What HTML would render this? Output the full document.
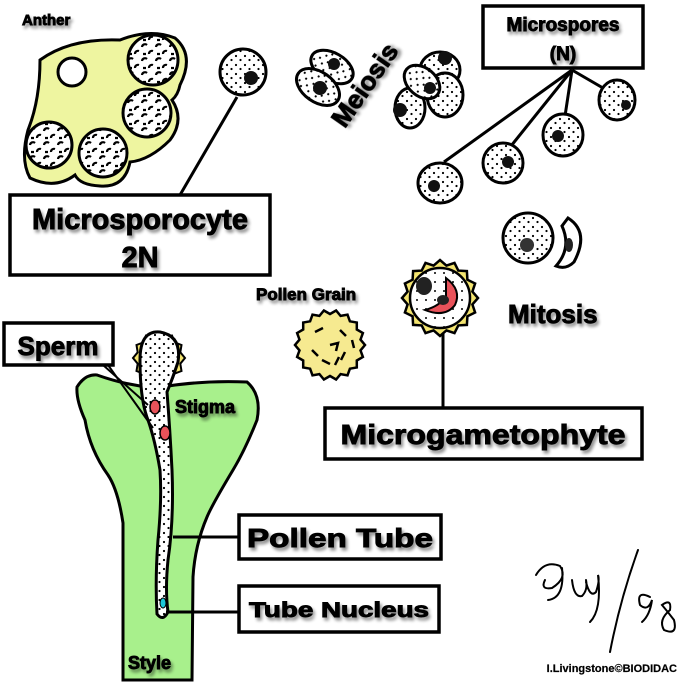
<!DOCTYPE html>
<html><head><meta charset="utf-8"><style>
html,body{margin:0;padding:0;background:#fff;}
svg{display:block;}
text{font-family:"Liberation Sans",sans-serif;font-weight:bold;stroke:#000;stroke-width:0.9px;}
</style></head><body>
<svg id="s" width="700" height="686" viewBox="0 0 700 686" xmlns="http://www.w3.org/2000/svg">
<defs>
<pattern id="dots" width="9" height="9" patternUnits="userSpaceOnUse">
<rect width="9" height="9" fill="#fff"/>
<circle cx="2" cy="2" r="1.1" fill="#000"/><circle cx="6.5" cy="6" r="1.1" fill="#000"/>
</pattern>
<pattern id="ydots" width="9" height="9" patternUnits="userSpaceOnUse">
<rect width="9" height="9" fill="#fff"/>
<circle cx="3" cy="3" r="1" fill="#000"/>
</pattern>
<pattern id="loc" width="14" height="14" patternUnits="userSpaceOnUse">
<rect width="14" height="14" fill="#fff"/>
<path d="M2 5 a3 3 0 0 1 5 -2 M9 12 a3 3 0 0 1 4 -3 M3 12 l3 0" stroke="#000" stroke-width="2.2" fill="none"/>
</pattern>
<filter id="sh" x="-10%" y="-10%" width="130%" height="140%">
<feGaussianBlur in="SourceAlpha" stdDeviation="1.5"/><feOffset dx="2" dy="3"/>
<feComponentTransfer><feFuncA type="linear" slope="0.45"/></feComponentTransfer>
<feMerge><feMergeNode/><feMergeNode in="SourceGraphic"/></feMerge>
</filter>
</defs>

<text x="22" y="25" font-size="15" filter="url(#sh)">Anther</text>
<!-- Anther -->
<path d="M40 60 Q70 38 120 40 Q150 28 175 38 Q195 55 180 85 Q178 95 172 100 Q185 120 170 140 Q150 160 130 162 Q125 188 100 186 Q80 185 75 175 Q55 190 30 178 Q20 160 28 130 Q40 100 40 60Z" fill="#eef5a0" stroke="#000" stroke-width="3"/>
<circle cx="72" cy="72" r="14" fill="#fff" stroke="#000" stroke-width="3"/>
<circle cx="153" cy="60" r="25" fill="url(#loc)" stroke="#000" stroke-width="3"/>
<circle cx="147" cy="113" r="24" fill="url(#loc)" stroke="#000" stroke-width="3"/>
<circle cx="49" cy="145" r="23" fill="url(#loc)" stroke="#000" stroke-width="3"/>
<circle cx="103" cy="153" r="24" fill="url(#loc)" stroke="#000" stroke-width="3"/>

<!-- microsporocyte -->
<line x1="237" y1="97" x2="180" y2="195" stroke="#000" stroke-width="3"/>
<circle cx="243" cy="72" r="23" fill="url(#dots)" stroke="#000" stroke-width="3"/>
<circle cx="251" cy="78" r="7" fill="#111"/>

<!-- dyad -->
<g stroke="#000" stroke-width="3">
<ellipse cx="332" cy="67" rx="23" ry="14" transform="rotate(30 332 67)" fill="url(#dots)"/>
<ellipse cx="318" cy="87" rx="24" ry="15" transform="rotate(35 318 87)" fill="url(#dots)"/>
</g>
<circle cx="334" cy="64" r="6" fill="#111"/><circle cx="320" cy="88" r="7" fill="#111"/>
<!-- tetrad -->
<g stroke="#000" stroke-width="3" fill="url(#dots)">
<ellipse cx="440" cy="70" rx="20" ry="18"/>
<ellipse cx="410" cy="108" rx="15" ry="20"/>
<ellipse cx="445" cy="95" rx="18" ry="22"/>
<ellipse cx="422" cy="82" rx="20" ry="14" transform="rotate(40 422 82)"/>
</g>
<circle cx="445" cy="58" r="7" fill="#111"/><circle cx="400" cy="110" r="7" fill="#111"/><circle cx="430" cy="88" r="6" fill="#111"/>

<text x="0" y="0" font-size="26" transform="translate(372 90) rotate(-55)" text-anchor="middle" filter="url(#sh)">Meiosis</text>

<!-- Microspores -->
<rect x="483" y="6" width="160" height="62" fill="#fff" stroke="#000" stroke-width="3.5"/>
<g filter="url(#sh)"><text x="563" y="31" font-size="19" text-anchor="middle">Microspores</text>
<text x="563" y="60" font-size="19" text-anchor="middle">(N)</text></g>
<g stroke="#000" stroke-width="3">
<line x1="572" y1="70" x2="444" y2="162"/><line x1="572" y1="70" x2="511" y2="146"/>
<line x1="572" y1="70" x2="565" y2="116"/><line x1="572" y1="70" x2="603" y2="88"/>
</g>
<g stroke="#000" stroke-width="3" fill="url(#dots)">
<ellipse cx="440" cy="183" rx="22" ry="20"/>
<ellipse cx="503" cy="163" rx="20" ry="20"/>
<ellipse cx="563" cy="135" rx="20" ry="21"/>
<ellipse cx="617" cy="100" rx="18" ry="20"/>
</g>
<circle cx="434" cy="186" r="6" fill="#111"/><circle cx="508" cy="162" r="6" fill="#111"/><circle cx="558" cy="136" r="6" fill="#111"/><circle cx="626" cy="105" r="5" fill="#111"/>

<!-- mitosis cells -->
<circle cx="528" cy="238" r="25" fill="url(#dots)" stroke="#000" stroke-width="3"/>
<circle cx="527" cy="245" r="7" fill="#333"/>
<path d="M568 218 Q590 232 574 262 Q566 270 556 266 Q572 248 562 226 Z" fill="#fff" stroke="#000" stroke-width="3"/>
<ellipse cx="569" cy="245" rx="4" ry="7" fill="#222"/>

<!-- microsporocyte box -->
<rect x="10" y="195" width="260" height="80" fill="#fff" stroke="#000" stroke-width="3.5"/>
<g filter="url(#sh)"><text x="140" y="229" font-size="29" text-anchor="middle">Microsporocyte</text>
<text x="140" y="267" font-size="29" text-anchor="middle">2N</text></g>

<!-- Pollen grain -->
<text x="256" y="300" font-size="17" filter="url(#sh)">Pollen Grain</text>
<path id="pg" fill="#f6ea90" stroke="#000" stroke-width="2.5"/>
<g stroke="#000" stroke-width="2.5" fill="none">
<path d="M315 332 l8 -4 M340 330 l6 6 M312 350 l6 6 M330 345 l8 -2 l-2 8 M345 352 l-4 8 M322 360 l8 4 M335 365 l4 -8 M352 340 l2 8"/>
</g>

<!-- microgametophyte -->
<line x1="443" y1="330" x2="443" y2="410" stroke="#000" stroke-width="3"/>
<path id="mg" fill="#f3e470" stroke="#000" stroke-width="2.5"/>
<circle cx="440" cy="298" r="30" fill="url(#ydots)" stroke="#000" stroke-width="2.5"/>
<ellipse cx="424" cy="286" rx="8" ry="9" fill="#222"/>
<path d="M446 278 Q462 290 455 305 Q445 318 425 310 Q440 306 446 296 Z" fill="#e8525a" stroke="#000" stroke-width="2"/>
<ellipse cx="443" cy="300" rx="6" ry="5" fill="#222"/>
<text x="508" y="323" font-size="26" filter="url(#sh)">Mitosis</text>
<rect x="325" y="408" width="317" height="51" fill="#fff" stroke="#000" stroke-width="3.5"/>
<text x="483" y="444" font-size="28" text-anchor="middle" filter="url(#sh)" textLength="285" lengthAdjust="spacingAndGlyphs">Microgametophyte</text>

<!-- stigma/style -->
<path d="M77 387 Q85 374 97 375 Q125 385 155 388 Q200 380 247 382 Q262 395 257 420 Q245 450 233 470 Q212 505 207 517 Q195 545 193 577 L192 680 L123 680 L123 523 Q118 490 108 475 Q90 450 85 420 Q76 400 77 387Z" fill="#a8f08c" stroke="#000" stroke-width="3"/>
<path id="ps" fill="#f3e470" stroke="#000" stroke-width="2"/>
<path d="M140 360 Q140 330 160 332 Q182 336 178 362 Q172 380 167 392 Q170 430 172 470 Q174 520 168 560 Q165 590 168 612 Q163 622 157 614 Q155 580 158 540 Q162 500 160 470 Q155 440 148 420 Q140 400 140 360Z" fill="url(#dots)" stroke="#000" stroke-width="3"/>
<ellipse cx="155" cy="407" rx="5" ry="7" fill="#e8525a" stroke="#000" stroke-width="1.5"/>
<ellipse cx="165" cy="433" rx="5" ry="7" fill="#e8525a" stroke="#000" stroke-width="1.5"/>
<ellipse cx="163" cy="603" rx="3" ry="5" fill="#1cc8d8" stroke="#000"/>
<g stroke="#000" stroke-width="2"><line x1="103" y1="365" x2="148" y2="405"/><line x1="108" y1="365" x2="153" y2="428"/></g>
<text x="175" y="413" font-size="18" filter="url(#sh)">Stigma</text>
<text x="128" y="669" font-size="18" filter="url(#sh)">Style</text>

<rect x="4" y="323" width="109" height="42" fill="#fff" stroke="#000" stroke-width="3.5"/>
<text x="58" y="355" font-size="26" text-anchor="middle" filter="url(#sh)">Sperm</text>

<g stroke="#000" stroke-width="3"><line x1="173" y1="537" x2="240" y2="537"/><line x1="166" y1="612" x2="240" y2="612"/></g>
<rect x="239" y="515" width="202" height="44" fill="#fff" stroke="#000" stroke-width="3.5"/>
<text x="340" y="547" font-size="26" text-anchor="middle" filter="url(#sh)" textLength="186" lengthAdjust="spacingAndGlyphs">Pollen Tube</text>
<rect x="239" y="586" width="200" height="46" fill="#fff" stroke="#000" stroke-width="3.5"/>
<text x="339" y="617" font-size="21" text-anchor="middle" filter="url(#sh)" textLength="180" lengthAdjust="spacingAndGlyphs">Tube Nucleus</text>

<!-- signature -->
<g stroke="#000" stroke-width="2" fill="none" stroke-linecap="round">
<path d="M536 575 Q545 560 560 566 Q568 578 552 588 Q540 590 545 580 M562 568 Q565 598 548 600"/>
<path d="M572 580 Q574 598 582 596 Q588 590 586 580 M586 582 Q590 598 596 592 Q600 580 598 575 Q602 610 590 622"/>
<path d="M638 550 Q620 600 610 652"/>
<path d="M650 597 Q636 590 640 605 Q648 612 652 600 Q650 615 642 622 M662 605 Q672 598 670 610 Q658 620 664 630 Q678 636 674 620 Q668 612 662 605Z"/>
</g>
<text x="677" y="672" font-size="11" text-anchor="end" style="stroke-width:0.2px">I.Livingstone©BIODIDAC</text>
</svg>
<script>
function spiky(cx,cy,r,sp,n){var d="";for(var i=0;i<2*n;i++){var a=i*Math.PI/n;var rr=i%2?r:r+sp;d+=(i?"L":"M")+(cx+rr*Math.cos(a)).toFixed(1)+" "+(cy+rr*Math.sin(a)).toFixed(1);}return d+"Z";}
document.getElementById("pg").setAttribute("d",spiky(330,345,31,4,18));
document.getElementById("mg").setAttribute("d",spiky(440,298,33,5,16));
document.getElementById("ps").setAttribute("d",spiky(159,358,22,4,12));
</script>
</body></html>
